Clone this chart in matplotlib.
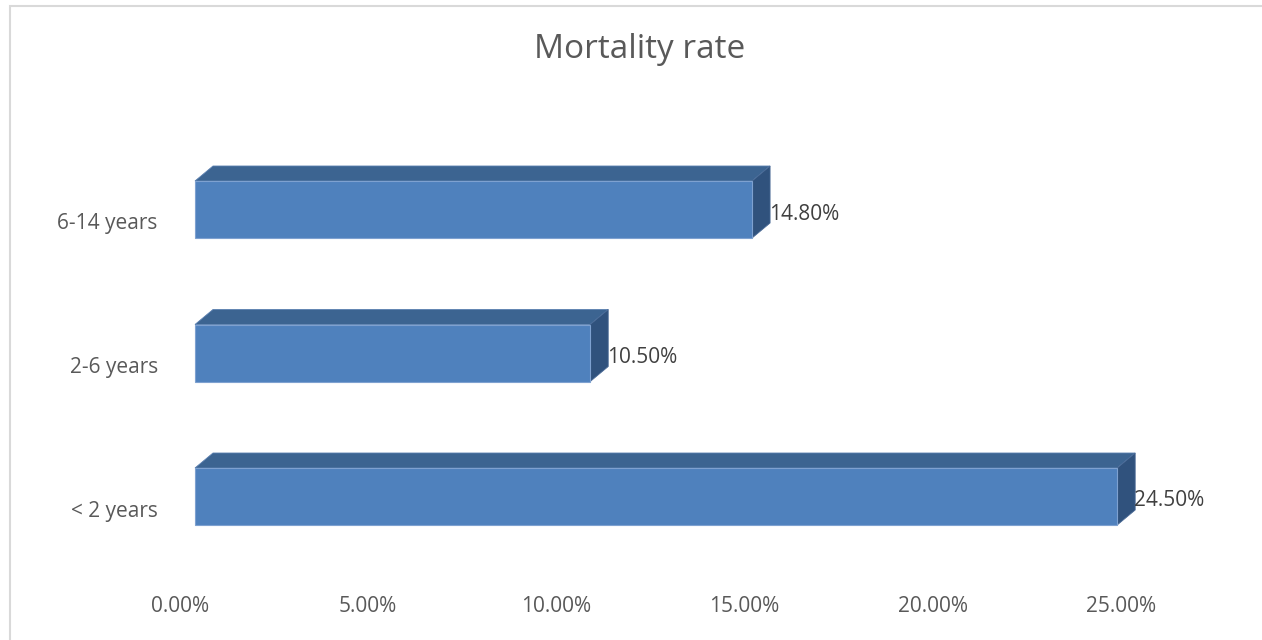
import matplotlib
matplotlib.use("Agg")
import matplotlib.pyplot as plt
from matplotlib.patches import Polygon, Rectangle

categories = ["< 2 years", "2-6 years", "6-14 years"]
rates = [24.5, 10.5, 14.8]
value_labels = ["24.50%", "10.50%", "14.80%"]
xticks = [0, 5, 10, 15, 20, 25]
xtick_labels = ["0.00%", "5.00%", "10.00%", "15.00%", "20.00%", "25.00%"]

W, H = 1262, 640
plt.rcParams['font.family'] = ['Open Sans', 'DejaVu Sans']

fig = plt.figure(figsize=(W / 100, H / 100), dpi=100)
fig.patch.set_facecolor("white")

# light chart-area frame (runs off the right/bottom edge in the original)
fig.add_artist(Rectangle((10 / W, -0.05), 1.1, 1 - 6 / H + 0.05,
                         transform=fig.transFigure, fill=False,
                         edgecolor="#D9D9D9", linewidth=1.5))

# axes in pixels: x 180..1121 -> 0..25 ; y 140..590
left, right, top, bottom = 180, 1121, 140, 590
ax = fig.add_axes([left / W, 1 - bottom / H, (right - left) / W, (bottom - top) / H])
px_per_cat = 143.5
ax.set_xlim(0, 25)
ax.set_ylim(-(bottom - 496.5) / px_per_cat, 2 + (209.5 - top) / px_per_cat)
ax.set_facecolor("none")
for s in ax.spines.values():
    s.set_visible(False)

px_per_x = (right - left) / 25.0
front_off = 15 / px_per_x
dx = 18 / px_per_x
dy = 15 / px_per_cat
h = 57 / px_per_cat

front_c = "#4F81BD"
top_c = "#3C6491"
side_c = "#30527D"

for i, v in enumerate(rates):
    x0 = front_off
    x1 = front_off + v
    yb, yt = i - h / 2, i + h / 2
    ax.add_patch(Polygon([(x0, yt), (x1, yt), (x1 + dx, yt + dy), (x0 + dx, yt + dy)],
                         closed=True, facecolor=top_c, edgecolor="#5A7FB0",
                         linewidth=0.6, clip_on=False))
    ax.add_patch(Polygon([(x1, yb), (x1, yt), (x1 + dx, yt + dy), (x1 + dx, yb + dy)],
                         closed=True, facecolor=side_c, edgecolor="#4A6A96",
                         linewidth=0.6, clip_on=False))
    ax.add_patch(Rectangle((x0, yb), v, h, facecolor=front_c,
                           edgecolor="#7EA1D0", linewidth=0.8, clip_on=False))
    ax.text(x1 + dx - 0.03, i - 4.5 / px_per_cat, value_labels[i], ha="left", va="center",
            fontsize=15, color="#404040", clip_on=False)

ax.set_xticks(xticks)
ax.set_xticklabels(xtick_labels, fontsize=15, color="#595959")
ax.set_yticks([i - 12 / px_per_cat for i in range(len(categories))])
ax.set_yticklabels(categories, fontsize=15, color="#595959")
ax.tick_params(axis="both", length=0)
ax.tick_params(axis="x", pad=4)
ax.tick_params(axis="y", pad=16)

fig.text(640 / W, 1 - 50 / H, "Mortality rate", ha="center", va="center",
         fontsize=24, color="#595959")

fig.savefig("out.png", dpi=100)
